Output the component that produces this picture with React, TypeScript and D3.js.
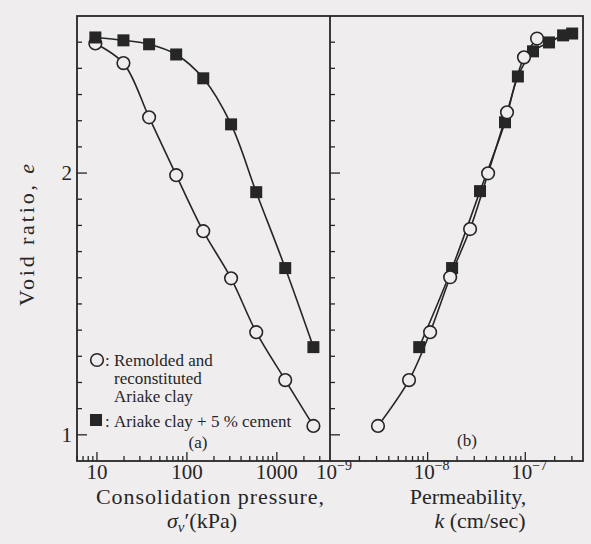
import React from "react";
import * as d3 from "d3";

// Consolidation pressure (kPa) for each loading step
const pressureKPa = [9.6, 19.7, 38, 76, 152, 310, 590, 1240, 2550];
// Void ratio vs pressure, panel (a)
const voidRemoldedA = [2.495, 2.42, 2.213, 1.992, 1.778, 1.598, 1.392, 1.209, 1.034];
const voidCementA = [2.518, 2.507, 2.492, 2.453, 2.362, 2.186, 1.927, 1.637, 1.335];

// Permeability (cm/sec) and void ratio, panel (b)
const permRemolded = [1.32e-7, 9.7e-8, 6.5e-8, 4.16e-8, 2.72e-8, 1.7e-8, 1.06e-8, 6.45e-9, 3.1e-9];
const voidRemoldedB = [2.514, 2.442, 2.232, 1.999, 1.786, 1.602, 1.392, 1.209, 1.034];
const permCement = [3.02e-7, 2.44e-7, 1.75e-7, 1.2e-7, 8.4e-8, 6.2e-8, 3.44e-8, 1.78e-8, 8.2e-9];
const voidCementB = [2.533, 2.526, 2.499, 2.465, 2.369, 2.194, 1.931, 1.637, 1.335];

// Axis ticks
const voidLabelTicks = [1, 2];
const voidMinorTicks = d3.range(10, 26).map((d) => d / 10);
const pressureMajor = [10, 100, 1000];
const pressureLabels = ["10", "100", "1000"];
const pressureMinor = [6, 7, 8, 9, 20, 30, 40, 50, 60, 70, 80, 90, 200, 300, 400, 500, 600, 700, 800, 900, 2000, 3000];
const permMajor = [1e-9, 1e-8, 1e-7];
const permExponents = ["−9", "−8", "−7"];
const permMinor = [2e-9, 3e-9, 4e-9, 5e-9, 6e-9, 7e-9, 8e-9, 9e-9, 2e-8, 3e-8, 4e-8, 5e-8, 6e-8, 7e-8, 8e-8, 9e-8, 2e-7, 3e-7];

const W = 591;
const H = 544;
const LEFT = 77;
const MID = 330;
const RIGHT = 583;
const TOP = 16;
const BOTTOM = 461;

const INK = "#262626";
const PAPER = "#efedee";
const FONT = "'Liberation Serif', 'Times New Roman', serif";

const xA = d3.scaleLog().domain([6, 3900]).range([LEFT, MID]);
const xB = d3.scaleLog().domain([1e-9, 3.9e-7]).range([MID, RIGHT]);
const y = d3.scaleLinear().domain([0.9, 2.6]).range([BOTTOM, TOP]);

type Pt = [number, number];
const zip = (xs: number[], ys: number[]): Pt[] => xs.map((x, i) => [x, ys[i]]);

function Series({ pts, sx, kind }: { pts: Pt[]; sx: (v: number) => number; kind: "circle" | "square" }) {
  const line = d3
    .line<Pt>()
    .x((d) => sx(d[0]))
    .y((d) => y(d[1]))
    .curve(d3.curveCatmullRom.alpha(0.5));
  return (
    <g>
      <path d={line(pts) || ""} fill="none" stroke={INK} strokeWidth={1.6} />
      {pts.map((d, i) =>
        kind === "circle" ? (
          <circle key={i} cx={sx(d[0])} cy={y(d[1])} r={6.3} fill={PAPER} stroke={INK} strokeWidth={1.6} />
        ) : (
          <rect key={i} x={sx(d[0]) - 6} y={y(d[1]) - 6} width={12} height={12} fill={INK} />
        )
      )}
    </g>
  );
}

function YTicks({ x0 }: { x0: number }) {
  return (
    <g stroke={INK} strokeWidth={1.3}>
      {voidMinorTicks.map((v) => {
        const major = voidLabelTicks.some((m) => Math.abs(m - v) < 1e-9);
        return <line key={v} x1={x0} x2={x0 + (major ? 10 : 5)} y1={y(v)} y2={y(v)} />;
      })}
    </g>
  );
}

function XTicks({ sx, major, minor }: { sx: (v: number) => number; major: number[]; minor: number[] }) {
  return (
    <g stroke={INK} strokeWidth={1.3}>
      {minor.map((v) => (
        <line key={"m" + v} x1={sx(v)} x2={sx(v)} y1={BOTTOM} y2={BOTTOM - 5} />
      ))}
      {major.map((v) => (
        <line key={"M" + v} x1={sx(v)} x2={sx(v)} y1={BOTTOM} y2={BOTTOM - 9} />
      ))}
    </g>
  );
}

export default function App() {
  return (
    <svg width={W} height={H} viewBox={`0 0 ${W} ${H}`} style={{ display: "block", position: "absolute", left: 0, top: 0 }} fontFamily={FONT}>
      <rect x={0} y={0} width={W} height={H} fill={PAPER} />

      {/* ticks */}
      <YTicks x0={LEFT} />
      <YTicks x0={MID} />
      <XTicks sx={xA} major={pressureMajor} minor={pressureMinor} />
      <XTicks sx={xB} major={permMajor.slice(1)} minor={permMinor} />

      {/* frames */}
      <rect x={LEFT} y={TOP} width={RIGHT - LEFT} height={BOTTOM - TOP} fill="none" stroke={INK} strokeWidth={1.8} />
      <line x1={MID} x2={MID} y1={TOP} y2={BOTTOM} stroke={INK} strokeWidth={1.8} />

      {/* panel (a) */}
      <Series pts={zip(pressureKPa, voidRemoldedA)} sx={xA} kind="circle" />
      <Series pts={zip(pressureKPa, voidCementA)} sx={xA} kind="square" />

      {/* panel (b) */}
      <Series pts={zip(permCement, voidCementB)} sx={xB} kind="square" />
      <Series pts={zip(permRemolded, voidRemoldedB)} sx={xB} kind="circle" />

      {/* legend */}
      <g fontSize={17} fill={INK}>
        <circle cx={97} cy={360} r={6.3} fill={PAPER} stroke={INK} strokeWidth={1.6} />
        <text x={105} y={366}>:</text>
        <text x={114} y={366}>Remolded and</text>
        <text x={114} y={384}>reconstituted</text>
        <text x={114} y={402}>Ariake clay</text>
        <rect x={90} y={414} width={12} height={12} fill={INK} />
        <text x={105} y={427}>:</text>
        <text x={114} y={427}>Ariake clay + 5 % cement</text>
        <text x={198} y={448} textAnchor="middle">(a)</text>
        <text x={467} y={446} textAnchor="middle">(b)</text>
      </g>

      {/* y tick labels */}
      <g fontSize={21} fill={INK} textAnchor="end">
        {voidLabelTicks.map((v) => (
          <text key={v} x={72} y={y(v) + 7}>
            {v}
          </text>
        ))}
      </g>

      {/* x tick labels */}
      <g fontSize={21} fill={INK} textAnchor="middle">
        {pressureMajor.map((v, i) => (
          <text key={v} x={xA(v)} y={479}>
            {pressureLabels[i]}
          </text>
        ))}
        {permMajor.map((v, i) => (
          <text key={v} x={xB(v) + 4} y={479}>
            10
            <tspan fontSize={14} dy={-9}>
              {permExponents[i]}
            </tspan>
          </text>
        ))}
      </g>

      {/* axis titles */}
      <g fontSize={22} fill={INK} textAnchor="middle">
        <text x={27} y={235} transform="rotate(-90 27 235)" dy={7} textLength={142} lengthAdjust="spacing">
          Void ratio, <tspan fontStyle="italic">e</tspan>
        </text>
        <text x={210} y={504} textLength={228} lengthAdjust="spacing">
          Consolidation pressure,
        </text>
        <text x={202} y={528}>
          <tspan fontStyle="italic">σ</tspan>
          <tspan fontStyle="italic" fontSize={15} dy={4}>v</tspan>
          <tspan dy={-4}>′(kPa)</tspan>
        </text>
        <text x={468} y={504}>
          Permeability,
        </text>
        <text x={480} y={528}>
          <tspan fontStyle="italic">k</tspan> (cm/sec)
        </text>
      </g>
    </svg>
  );
}
